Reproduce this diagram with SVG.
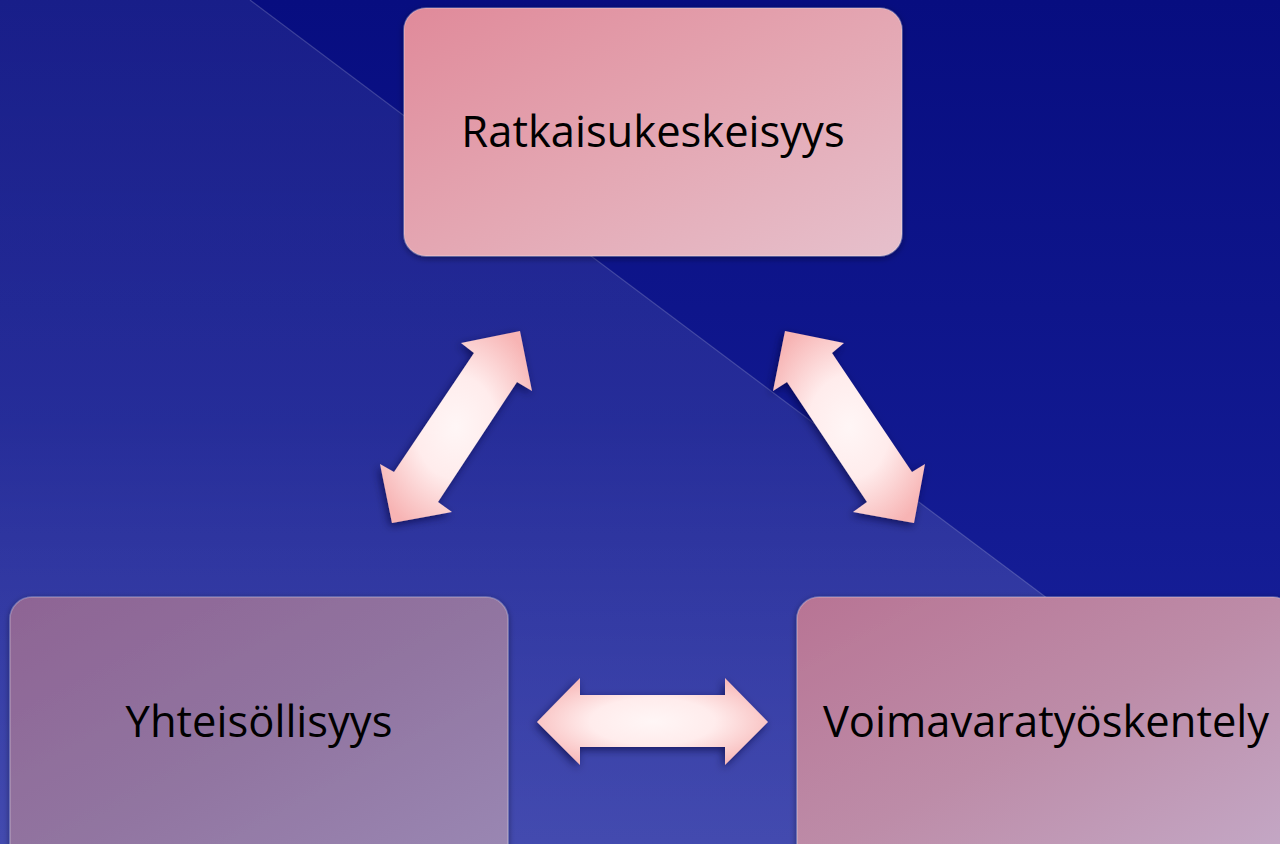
<svg xmlns="http://www.w3.org/2000/svg" width="1280" height="844" viewBox="0 0 1280 844">
<defs>
<style>
.lbl{font-family:"Open Sans","Liberation Sans",sans-serif;font-size:43.5px;fill:#000;text-anchor:middle}
.box{stroke:#ffffff;stroke-opacity:0.25;stroke-width:1.5}
.arrow{stroke:none}
</style>
<linearGradient id="bg" x1="0" y1="0" x2="0" y2="1">
<stop offset="0" stop-color="#070d80"/>
<stop offset="1" stop-color="#1a239e"/>
</linearGradient>
<linearGradient id="ov" x1="0" y1="0" x2="0" y2="1">
<stop offset="0" stop-color="#ffffff" stop-opacity="0.07"/>
<stop offset="0.5" stop-color="#ffffff" stop-opacity="0.09"/>
<stop offset="1" stop-color="#ffffff" stop-opacity="0.18"/>
</linearGradient>
<linearGradient id="gTop" x1="0" y1="0" x2="1" y2="1">
<stop offset="0" stop-color="#e08a9a"/>
<stop offset="0.5" stop-color="#e4a6b2"/>
<stop offset="1" stop-color="#e6c0cc"/>
</linearGradient>
<linearGradient id="gLeft" x1="0" y1="0" x2="1" y2="1">
<stop offset="0" stop-color="#8e6494"/>
<stop offset="0.5" stop-color="#9174a0"/>
<stop offset="1" stop-color="#9a88b4"/>
</linearGradient>
<linearGradient id="gRight" x1="0" y1="0" x2="1" y2="1">
<stop offset="0" stop-color="#b87494"/>
<stop offset="0.5" stop-color="#bd8ca8"/>
<stop offset="1" stop-color="#c4aac8"/>
</linearGradient>
<radialGradient id="gArrow" cx="0.5" cy="0.5" r="0.6">
<stop offset="0" stop-color="#fff6f6"/>
<stop offset="0.45" stop-color="#ffecec"/>
<stop offset="1" stop-color="#f7b4b4"/>
</radialGradient>
<filter id="sh" x="-20%" y="-20%" width="140%" height="140%">
<feDropShadow dx="-2" dy="3" stdDeviation="4" flood-color="#000030" flood-opacity="0.6"/>
</filter>
<filter id="bsh" x="-10%" y="-10%" width="120%" height="120%">
<feDropShadow dx="0" dy="2" stdDeviation="3" flood-color="#000020" flood-opacity="0.5"/>
</filter>
</defs>
<rect x="0" y="0" width="1280" height="844" fill="url(#bg)"/>
<polygon points="0,0 250,0 1280,773 1280,844 0,844" fill="url(#ov)"/>
<line x1="250" y1="0" x2="1280" y2="773" stroke="#ffffff" stroke-opacity="0.18" stroke-width="1.2"/>

<g id="connectors">
<polygon class="arrow" filter="url(#sh)" fill="url(#gArrow)" points="520,331 532,391 517,382 438,502 452,512 392,523 380,464 394,472 474,353 461,343"/>
<polygon class="arrow" filter="url(#sh)" fill="url(#gArrow)" points="785,331 773,391 787,382 867,502 853,512 914,523 925,464 912,472 832,353 844,343"/>
<polygon class="arrow" filter="url(#sh)" fill="url(#gArrow)" points="537,722 580,678 580,695 725,695 725,678 768,722 725,765 725,747 580,747 580,765"/>
</g>

<g id="node-ratkaisukeskeisyys">
<rect class="box" filter="url(#bsh)" x="404" y="8" width="498" height="248" rx="22" fill="url(#gTop)"/>
<text class="lbl" x="653" y="147">Ratkaisukeskeisyys</text>
</g>
<g id="node-yhteisollisyys">
<rect class="box" filter="url(#bsh)" x="10" y="597" width="498" height="270" rx="22" fill="url(#gLeft)"/>
<text class="lbl" x="259" y="737">Yhteisöllisyys</text>
</g>
<g id="node-voimavaratyoskentely">
<rect class="box" filter="url(#bsh)" x="797" y="597" width="498" height="270" rx="22" fill="url(#gRight)"/>
<text class="lbl" x="1046" y="737">Voimavaratyöskentely</text>
</g>
</svg>
